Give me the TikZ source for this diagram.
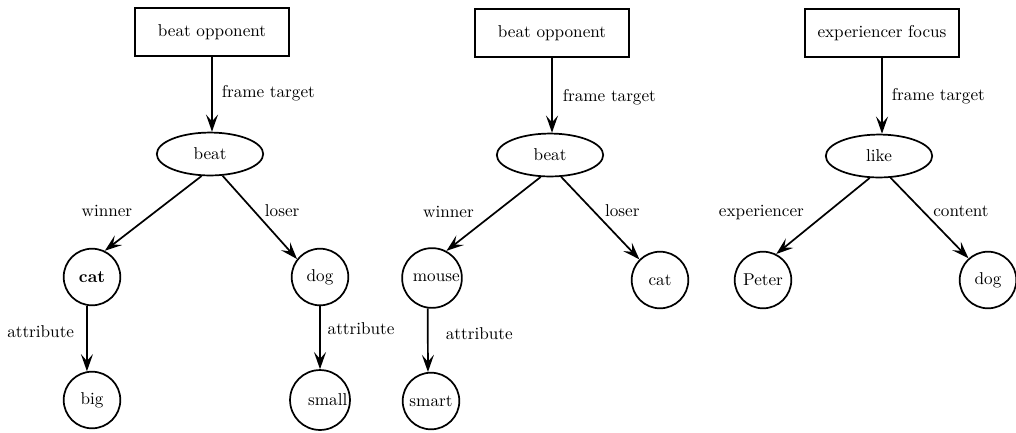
\documentclass[tikz,border=0pt]{standalone}
\usetikzlibrary{arrows.meta,shapes.geometric}
\begin{document}
\begin{tikzpicture}[x=0.5827pt,y=-0.5827pt,
  frame/.style={draw,line width=1pt,rectangle,minimum width=90pt,minimum height=28pt},
  pred/.style={draw,line width=1pt,ellipse,minimum width=62pt,minimum height=25pt},
  ent/.style={draw,line width=1pt,circle,minimum size=33pt,inner sep=1pt},
  rel/.style={line width=1pt,-{Stealth[length=10pt,width=7pt,inset=4pt]}},
  lab/.style={inner sep=2pt}]
\useasboundingbox (0,0) rectangle (1016,432);

% first frame: the cat beats the dog
\node[frame] (f1) at (212,32) {beat opponent};
\node[pred]  (b1) at (210,154) {beat};
\node[ent]   (cat1) at (92,277) {\textbf{cat}};
\node[ent]   (dog1) at (320,277) {dog};
\node[ent]   (big) at (92,400) {big};
\node[ent]   (small) at (320,400) {\hspace{9pt}small};
\draw[rel] (f1.south) -- (f1.south |- b1.north) node[lab,pos=0.49,right=3.2pt] {frame target};
\draw[rel] (b1.249) -- (cat1.64) node[lab,pos=0.47,left=11.4pt] {winner};
\draw[rel] (b1.300) -- (dog1.142) node[lab,pos=0.42,right=4pt] {loser};
\draw[rel] (cat1.260) -- (big.100) node[lab,pos=0.4,left=5pt] {attribute};
\draw[rel] (dog1) -- (small) node[lab,pos=0.36,right=2pt] {attribute};

% second frame: the mouse beats the cat
\node[frame] (f2) at (552,33) {beat opponent};
\node[pred]  (b2) at (550,155) {beat};
\node[ent]   (mouse) at (432,278) {\hspace{5pt}mouse};
\node[ent]   (cat2) at (660,280) {cat};
\node[ent]   (smart) at (431,401) {smart};
\draw[rel] (f2.south) -- (f2.south |- b2.north) node[lab,pos=0.52,right=3.8pt] {frame target};
\draw[rel] (b2.247) -- (mouse.62) node[lab,pos=0.47,left=10.7pt] {winner};
\draw[rel] (b2.297) -- (cat2.135) node[lab,pos=0.41,right=4.4pt] {loser};
\draw[rel] (mouse.262) -- (smart.96) node[lab,pos=0.4,right=8pt] {attribute};

% third frame: Peter likes the dog
\node[frame] (f3) at (882,33) {experiencer focus};
\node[pred]  (lk) at (879,156) {like};
\node[ent]   (peter) at (763,280) {Peter};
\node[ent]   (dog2) at (988,280) {dog};
\draw[rel] (f3.south) -- (f3.south |- lk.north) node[lab,pos=0.5,right=3.2pt] {frame target};
\draw[rel] (lk.247) -- (peter.63) node[lab,pos=0.46,left=10.8pt] {experiencer};
\draw[rel] (lk.298) -- (dog2.132) node[lab,pos=0.41,right=3.8pt] {content};
\end{tikzpicture}
\end{document}
